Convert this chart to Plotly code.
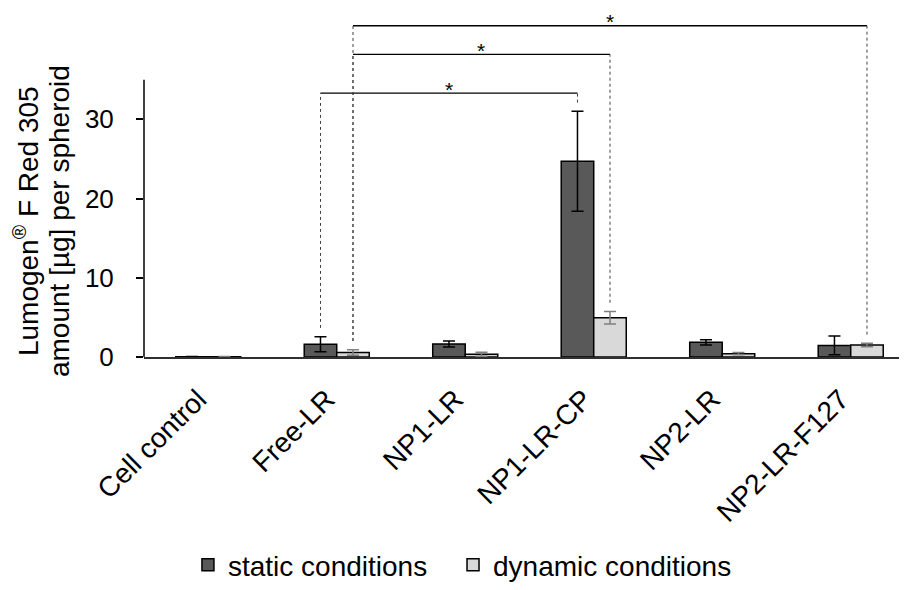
import plotly.graph_objects as go

categories = ["Cell control", "Free-LR", "NP1-LR", "NP1-LR-CP", "NP2-LR", "NP2-LR-F127"]
static_vals = [0.03, 1.62, 1.65, 24.7, 1.85, 1.46]
static_err = [0.02, 0.95, 0.38, 6.3, 0.33, 1.18]
dynamic_vals = [0.03, 0.57, 0.35, 4.95, 0.42, 1.5]
dynamic_err = [0.02, 0.35, 0.25, 0.8, 0.15, 0.22]
y_ticks = [0, 10, 20, 30]
y_title_lines = ["Lumogen<sup>®</sup> F Red 305", "amount [µg] per spheroid"]
# significance brackets: (category a, series a, category b, series b, bracket level)
brackets = [
    (1, "static", 3, "static", 33.3),
    (1, "dynamic", 3, "dynamic", 38.2),
    (1, "dynamic", 5, "dynamic", 41.8),
]

FONT = "Liberation Sans, Arial, sans-serif"
BARGAP = 0.494
BAR_W = (1 - BARGAP) / 2
Y_AXIS_MAX = 35
Y_RANGE_TOP = 44.04
X_RANGE = [-0.5, 5.438]

xs = list(range(len(categories)))

fig = go.Figure()
fig.add_trace(go.Bar(
    x=xs, y=static_vals, name="static conditions", legend="legend",
    marker=dict(color="#595959", line=dict(color="black", width=1.5)),
    error_y=dict(type="data", array=static_err, color="black", thickness=1.5, width=6),
))
fig.add_trace(go.Bar(
    x=xs, y=dynamic_vals, name="dynamic conditions", legend="legend2",
    marker=dict(color="#D9D9D9", line=dict(color="black", width=1.5)),
    error_y=dict(type="data", array=dynamic_err, color="#7F7F7F", thickness=1.5, width=6),
))

series = {
    "static": (static_vals, static_err, -BAR_W / 2),
    "dynamic": (dynamic_vals, dynamic_err, BAR_W / 2),
}
shapes = []
annotations = []
for ca, sa, cb, sb, level in brackets:
    va, ea, oa = series[sa]
    vb, eb, ob = series[sb]
    xa = ca + oa
    xb = cb + ob
    ya = va[ca] + ea[ca] + 1.1
    yb = vb[cb] + eb[cb] + 1.1
    shapes.append(dict(type="line", xref="x", yref="y", x0=xa, x1=xb, y0=level, y1=level,
                       line=dict(color="black", width=1.3)))
    shapes.append(dict(type="line", xref="x", yref="y", x0=xa, x1=xa, y0=ya, y1=level,
                       line=dict(color="#404040", width=1, dash="dot")))
    shapes.append(dict(type="line", xref="x", yref="y", x0=xb, x1=xb, y0=yb, y1=level,
                       line=dict(color="#404040", width=1, dash="dot")))
    annotations.append(dict(x=(xa + xb) / 2, y=level, xref="x", yref="y", text="*",
                            showarrow=False, yanchor="middle", yshift=4,
                            font=dict(family=FONT, size=21, color="black")))

# y axis line only up to the axis max
shapes.append(dict(type="line", xref="paper", yref="paper", x0=0, x1=0,
                   y0=0, y1=Y_AXIS_MAX / Y_RANGE_TOP, line=dict(color="black", width=1.5)))

for line_text, xpos in zip(y_title_lines, [-0.1546, -0.1114]):
    annotations.append(dict(
        xref="paper", yref="paper", x=xpos, y=0.3896,
        text=line_text, textangle=-90, showarrow=False,
        xanchor="center", yanchor="middle",
        font=dict(family=FONT, size=28, color="black"),
    ))

legend_common = dict(orientation="h", xanchor="left", y=-0.597, yanchor="middle",
                     bgcolor="rgba(0,0,0,0)",
                     font=dict(family=FONT, size=28, color="black"))

fig.update_layout(
    width=899, height=582,
    margin=dict(l=136, r=0, t=0, b=220),
    paper_bgcolor="white", plot_bgcolor="white",
    barmode="group", bargap=BARGAP, bargroupgap=0,
    font=dict(family=FONT, size=26, color="black"),
    showlegend=True,
    legend=dict(x=0.0576, **legend_common),
    legend2=dict(x=0.405, **legend_common),
    shapes=shapes,
    annotations=annotations,
)
fig.update_xaxes(
    range=X_RANGE, tickvals=xs, ticktext=categories, tickangle=-45,
    showline=True, linecolor="#303030", linewidth=1.5, ticks="",
    showgrid=False, zeroline=False,
    ticklabelstandoff=13, ticklabelshift=-10,
    tickfont=dict(family=FONT, size=28, color="black"),
)
fig.update_yaxes(
    range=[0, Y_RANGE_TOP], tickvals=y_ticks, ticks="outside", ticklen=7,
    tickwidth=1.5, tickcolor="black", showline=False, showgrid=False, zeroline=False,
    ticklabelstandoff=17,
    tickfont=dict(family=FONT, size=26, color="black"),
)

fig.write_html("out.html")
